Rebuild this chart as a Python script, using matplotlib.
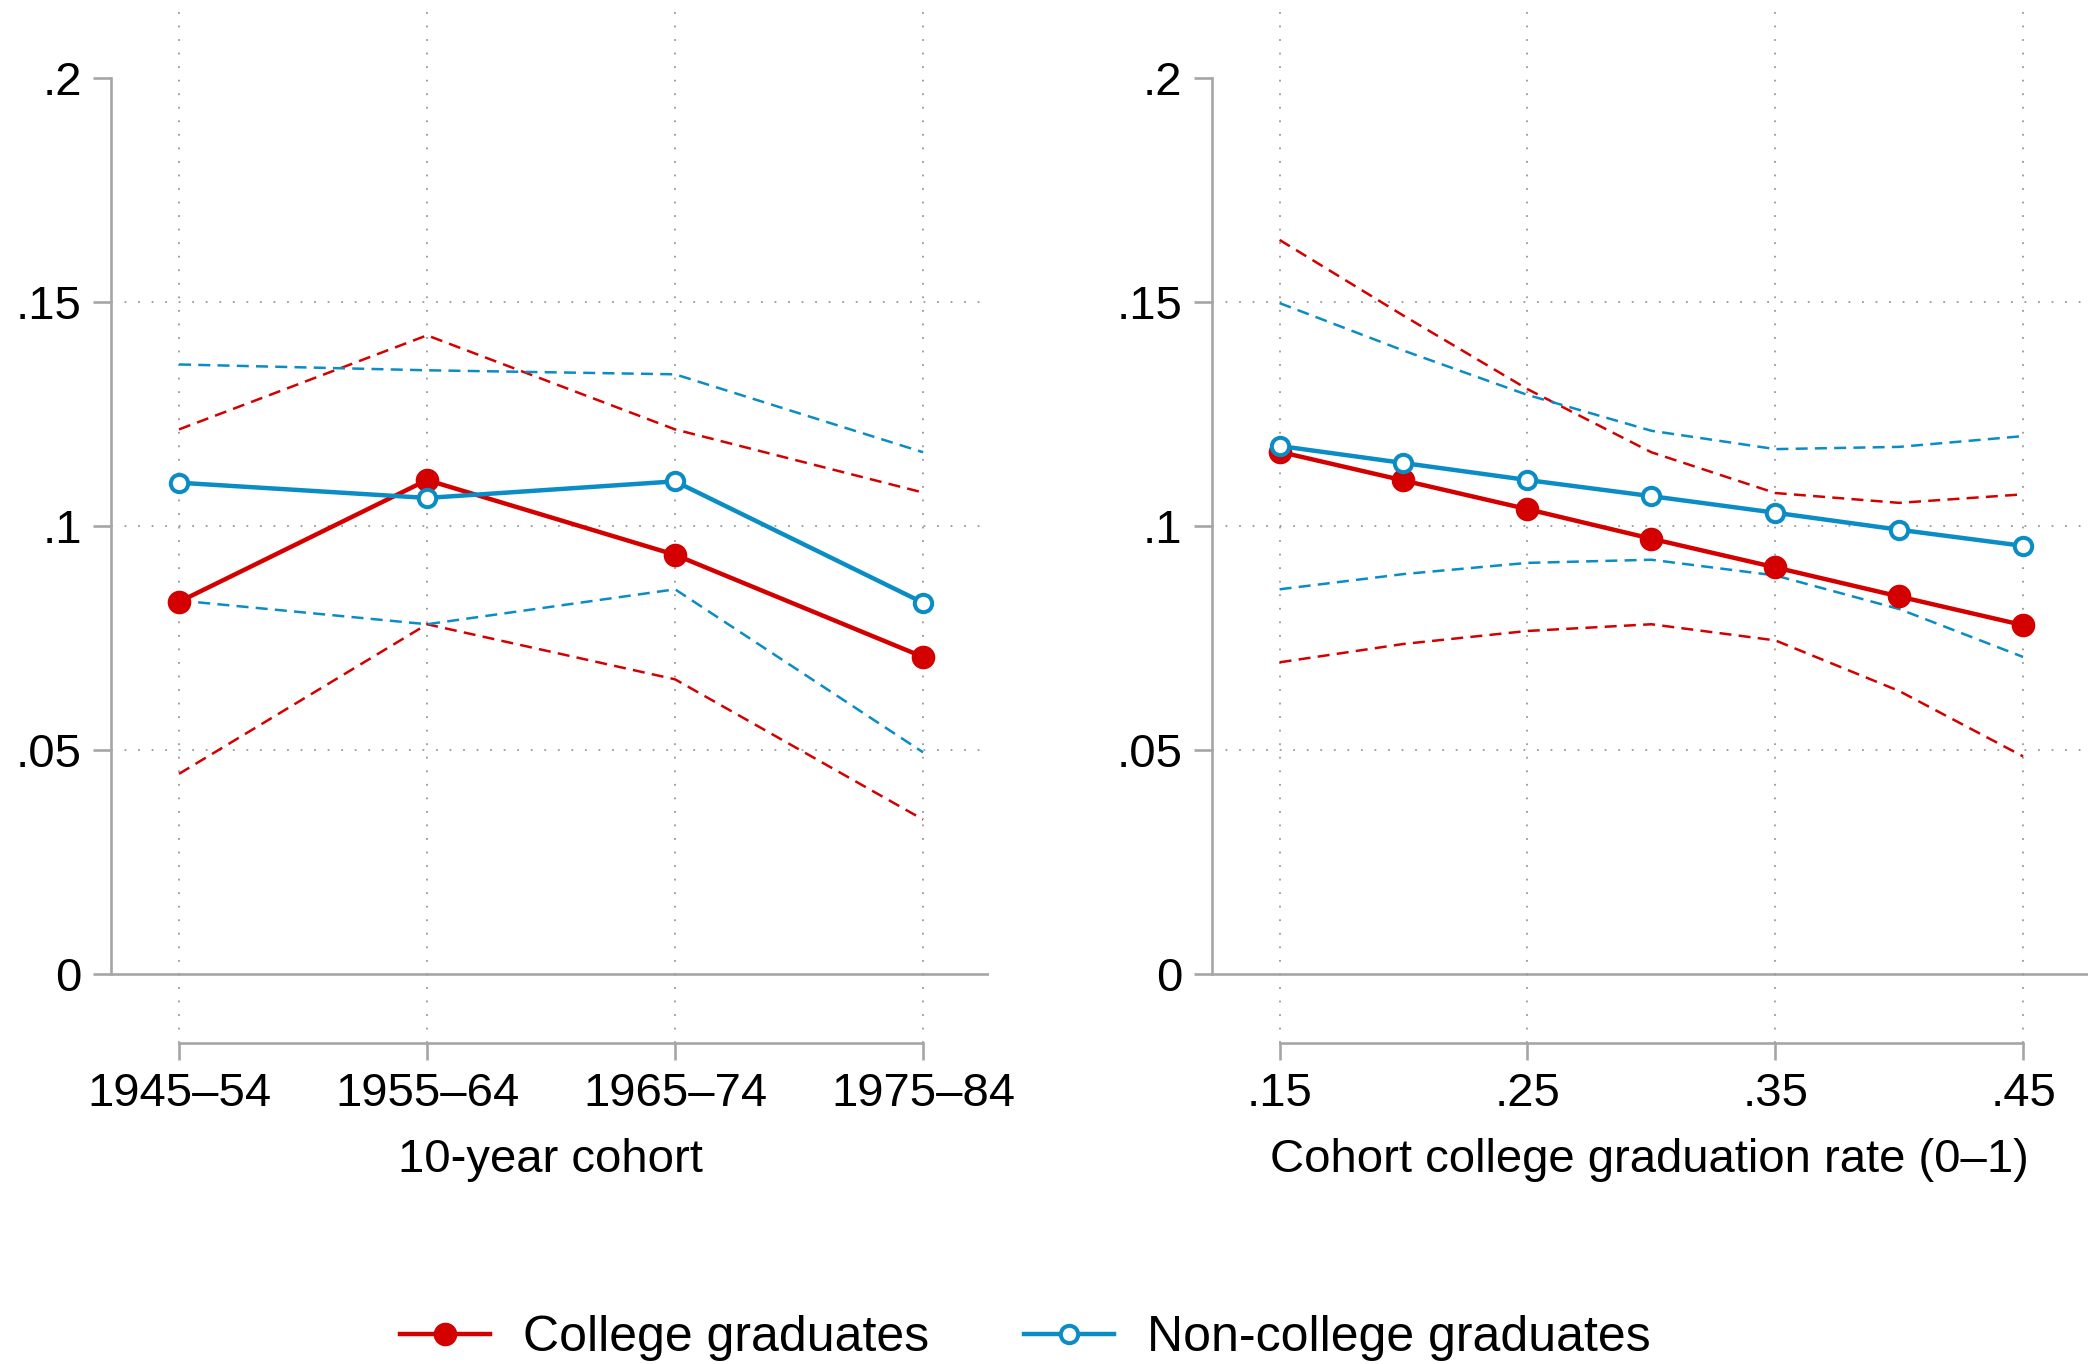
import matplotlib
matplotlib.use('Agg')
import matplotlib.pyplot as plt
from matplotlib.lines import Line2D

plt.rcParams['font.family'] = ['Liberation Sans', 'DejaVu Sans']

# left panel: 10-year cohorts
cohorts = ['1945–54', '1955–64', '1965–74', '1975–84']
coh_col = [0.0831, 0.1103, 0.0936, 0.0708]
coh_col_hi = [0.1216, 0.1426, 0.1216, 0.1075]
coh_col_lo = [0.0447, 0.0781, 0.0658, 0.0345]
coh_non = [0.1097, 0.1063, 0.1100, 0.0829]
coh_non_hi = [0.1361, 0.1348, 0.1339, 0.1165]
coh_non_lo = [0.0834, 0.0781, 0.0859, 0.0495]

# right panel: cohort college graduation rate
rate = [0.15, 0.20, 0.25, 0.30, 0.35, 0.40, 0.45]
rate_ticks = [0.15, 0.25, 0.35, 0.45]
rate_labels = ['.15', '.25', '.35', '.45']
rate_col = [0.1166, 0.1102, 0.1038, 0.0972, 0.0908, 0.0843, 0.0779]
rate_col_hi = [0.1639, 0.1470, 0.1306, 0.1165, 0.1074, 0.1052, 0.1071]
rate_col_lo = [0.0696, 0.0737, 0.0766, 0.0781, 0.0745, 0.0632, 0.0486]
rate_non = [0.1179, 0.1141, 0.1103, 0.1067, 0.1030, 0.0992, 0.0956]
rate_non_hi = [0.1498, 0.1392, 0.1293, 0.1213, 0.1172, 0.1177, 0.1201]
rate_non_lo = [0.0859, 0.0893, 0.0918, 0.0925, 0.0890, 0.0815, 0.0708]

yticks = [0, 0.05, 0.1, 0.15, 0.2]
ylabels = ['0', '.05', '.1', '.15', '.2']

RED = '#d40000'
BLUE = '#0a8cc4'
GRAY = '#a6a6a6'
FS = 34

fig = plt.figure(figsize=(20.88, 13.64), dpi=100)
ax0 = fig.add_axes([0.0532, 0.2353, 0.4205, 0.7566])
ax1 = fig.add_axes([0.5803, 0.2353, 0.4197, 0.7566])


def draw_panel(ax, x, col, col_hi, col_lo, non, non_hi, non_lo):
    dash = dict(lw=1.8, dashes=(4.8, 2.9))
    ax.plot(x, col_hi, color=RED, **dash, zorder=3)
    ax.plot(x, col_lo, color=RED, **dash, zorder=3)
    ax.plot(x, non_hi, color=BLUE, **dash, zorder=3)
    ax.plot(x, non_lo, color=BLUE, **dash, zorder=3)
    ax.plot(x, col, color=RED, lw=3.2, marker='o', ms=17, mew=0, zorder=4)
    ax.plot(x, non, color=BLUE, lw=3.2, marker='o', ms=12.5, mfc='white',
            mec=BLUE, mew=2.9, zorder=5)


def style_panel(ax, xticks, xlabels, xlim, xtitle):
    ax.set_xlim(*xlim)
    ax.set_ylim(-0.0154, 0.215)
    ax.spines['top'].set_visible(False)
    ax.spines['right'].set_visible(False)
    ax.spines['left'].set_bounds(0, 0.2)
    ax.spines['bottom'].set_bounds(xticks[0], xticks[-1])
    for s in ['left', 'bottom']:
        ax.spines[s].set_color(GRAY)
        ax.spines[s].set_linewidth(1.9)
    ax.set_yticks(yticks)
    ax.set_yticklabels(ylabels)
    ax.set_xticks(xticks)
    ax.set_xticklabels(xlabels)
    ax.tick_params(axis='y', length=13, width=1.9, color=GRAY, labelsize=FS, pad=8)
    ax.tick_params(axis='x', length=12, width=1.9, color=GRAY, labelsize=FS, pad=9)
    ax.axhline(0, color=GRAY, lw=1.9, zorder=1)
    for yv in [0.05, 0.1, 0.15]:
        ax.axhline(yv, color='#999999', lw=1.3, dashes=(1, 6.5), zorder=1)
    for xv in xticks:
        ax.axvline(xv, color='#999999', lw=1.3, dashes=(1, 6.5), zorder=1)
    ax.set_xlabel(xtitle, fontsize=FS, labelpad=16)


draw_panel(ax0, range(len(cohorts)), coh_col, coh_col_hi, coh_col_lo,
           coh_non, coh_non_hi, coh_non_lo)
style_panel(ax0, list(range(len(cohorts))), cohorts, (-0.274, 3.266),
            '10-year cohort')

draw_panel(ax1, rate, rate_col, rate_col_hi, rate_col_lo,
           rate_non, rate_non_hi, rate_non_lo)
style_panel(ax1, rate_ticks, rate_labels, (0.1226, 0.4762),
            'Cohort college graduation rate (0–1)')

handles = [Line2D([], [], color=RED, lw=3.2, marker='o', ms=17, mew=0),
           Line2D([], [], color=BLUE, lw=3.2, marker='o', ms=12.5, mfc='white',
                  mec=BLUE, mew=2.9)]
fig.legend(handles, ['College graduates', 'Non-college graduates'],
           loc='center', bbox_to_anchor=(0.491, 0.0188), ncol=2, frameon=False,
           fontsize=36, handlelength=1.8, handletextpad=0.66, columnspacing=1.9)

fig.savefig('out.png', dpi=100)
